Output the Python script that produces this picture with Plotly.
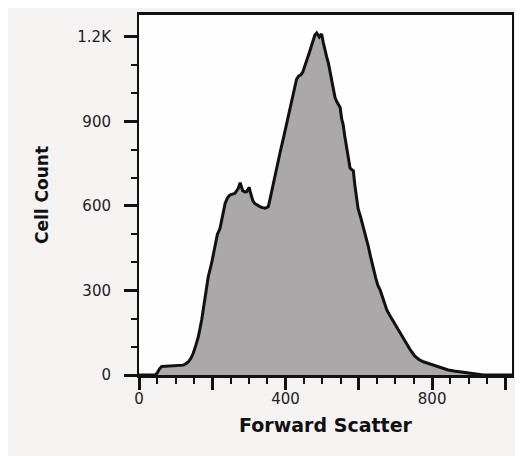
import plotly.graph_objects as go

# Forward scatter channel (x) and cell count (y)
fsc = [0, 45, 50, 56, 62, 85, 110, 121, 128, 135, 142, 148, 155, 162, 171, 180, 189, 198, 207, 214,
       221, 228, 235, 242, 248, 255, 262, 267, 271, 276, 280, 283, 289, 294, 298, 301, 304, 307, 311, 316,
       323, 330, 337, 344, 349, 353, 357, 364, 371, 378, 385, 394, 403, 412, 421, 430, 436, 442, 447, 453,
       458, 465, 471, 476, 480, 485, 489, 492, 496, 499, 503, 507, 512, 517, 521, 526, 531, 535, 540, 545,
       549, 553, 557, 562, 567, 572, 576, 580, 585, 589, 594, 598, 605, 612, 619, 626, 632, 639, 646, 652,
       658, 665, 671, 676, 685, 694, 703, 712, 721, 730, 741, 753, 764, 776, 790, 803, 815, 826, 835, 844,
       860, 876, 894, 910, 925, 940, 1024]
count = [0, 0, 8, 22, 30, 32, 33, 35, 40, 47, 60, 77, 105, 136, 195, 278, 349, 396, 452, 500,
         520, 570, 609, 630, 639, 642, 645, 655, 663, 683, 668, 654, 650, 651, 660, 666, 648, 634, 618, 609,
         602, 598, 594, 592, 595, 598, 621, 665, 705, 745, 790, 840, 893, 945, 1000, 1050, 1062, 1066, 1075, 1095,
         1118, 1145, 1171, 1190, 1207, 1214, 1205, 1200, 1208, 1207, 1180, 1155, 1130, 1107, 1080, 1050, 1015, 985, 970, 960,
         950, 910, 890, 845, 810, 770, 735, 730, 725, 675, 630, 590, 560, 528, 490, 456, 420, 380, 345, 318,
         302, 275, 250, 232, 210, 190, 168, 148, 128, 108, 88, 67, 55, 47, 41, 35, 29, 24, 20, 18,
         14, 11, 8, 4, 2, 0, 0]

x_tickvals = [0, 200, 400, 600, 800, 1000]
x_ticktext = ["0", "", "400", "", "800", ""]
y_tickvals = [0, 300, 600, 900, 1200]
y_ticktext = ["0", "300", "600", "900", "1.2K"]

fig = go.Figure()
fig.add_trace(go.Scatter(
    x=fsc, y=count, mode="lines", fill="tozeroy",
    fillcolor="#aaa8a9",
    line=dict(color="#111111", width=3),
    hoverinfo="skip", showlegend=False,
))

font_family = "DejaVu Sans"
fig.update_layout(
    width=515, height=448,
    margin=dict(l=131, r=11, t=7, b=81),
    paper_bgcolor="#f5f2f2",
    plot_bgcolor="#fefefe",
    font=dict(family=font_family, color="#1a1a1a", size=15),
)
fig.update_xaxes(
    range=[0, 1018], showgrid=False, zeroline=False, automargin=False,
    showline=True, linecolor="#111111", linewidth=3, mirror=True,
    ticks="outside", ticklen=12, tickwidth=3, tickcolor="#111111",
    tickvals=x_tickvals, ticktext=x_ticktext,
    ticklabelstandoff=-4,
    tickfont=dict(size=15, family=font_family, color="#222222"),
    minor=dict(dtick=50, tick0=0, ticks="outside", ticklen=6, tickwidth=2, tickcolor="#111111", showgrid=False),
    title=dict(text="<b>Forward Scatter</b>", font=dict(size=19, family=font_family, color="#111111"), standoff=12),
)
fig.update_yaxes(
    range=[0, 1278], showgrid=False, zeroline=False, automargin=False,
    showline=True, linecolor="#111111", linewidth=2, mirror=True,
    ticks="outside", ticklen=13, tickwidth=3, tickcolor="#111111",
    tickvals=y_tickvals, ticktext=y_ticktext,
    ticklabelstandoff=10,
    tickfont=dict(size=15, family=font_family, color="#222222"),
    minor=dict(dtick=100, tick0=0, ticks="outside", ticklen=6, tickwidth=2, tickcolor="#111111", showgrid=False),
    title=dict(text="<b>Cell Count</b>", font=dict(size=17, family=font_family, color="#111111"), standoff=24),
)

fig.write_html("out.html")
